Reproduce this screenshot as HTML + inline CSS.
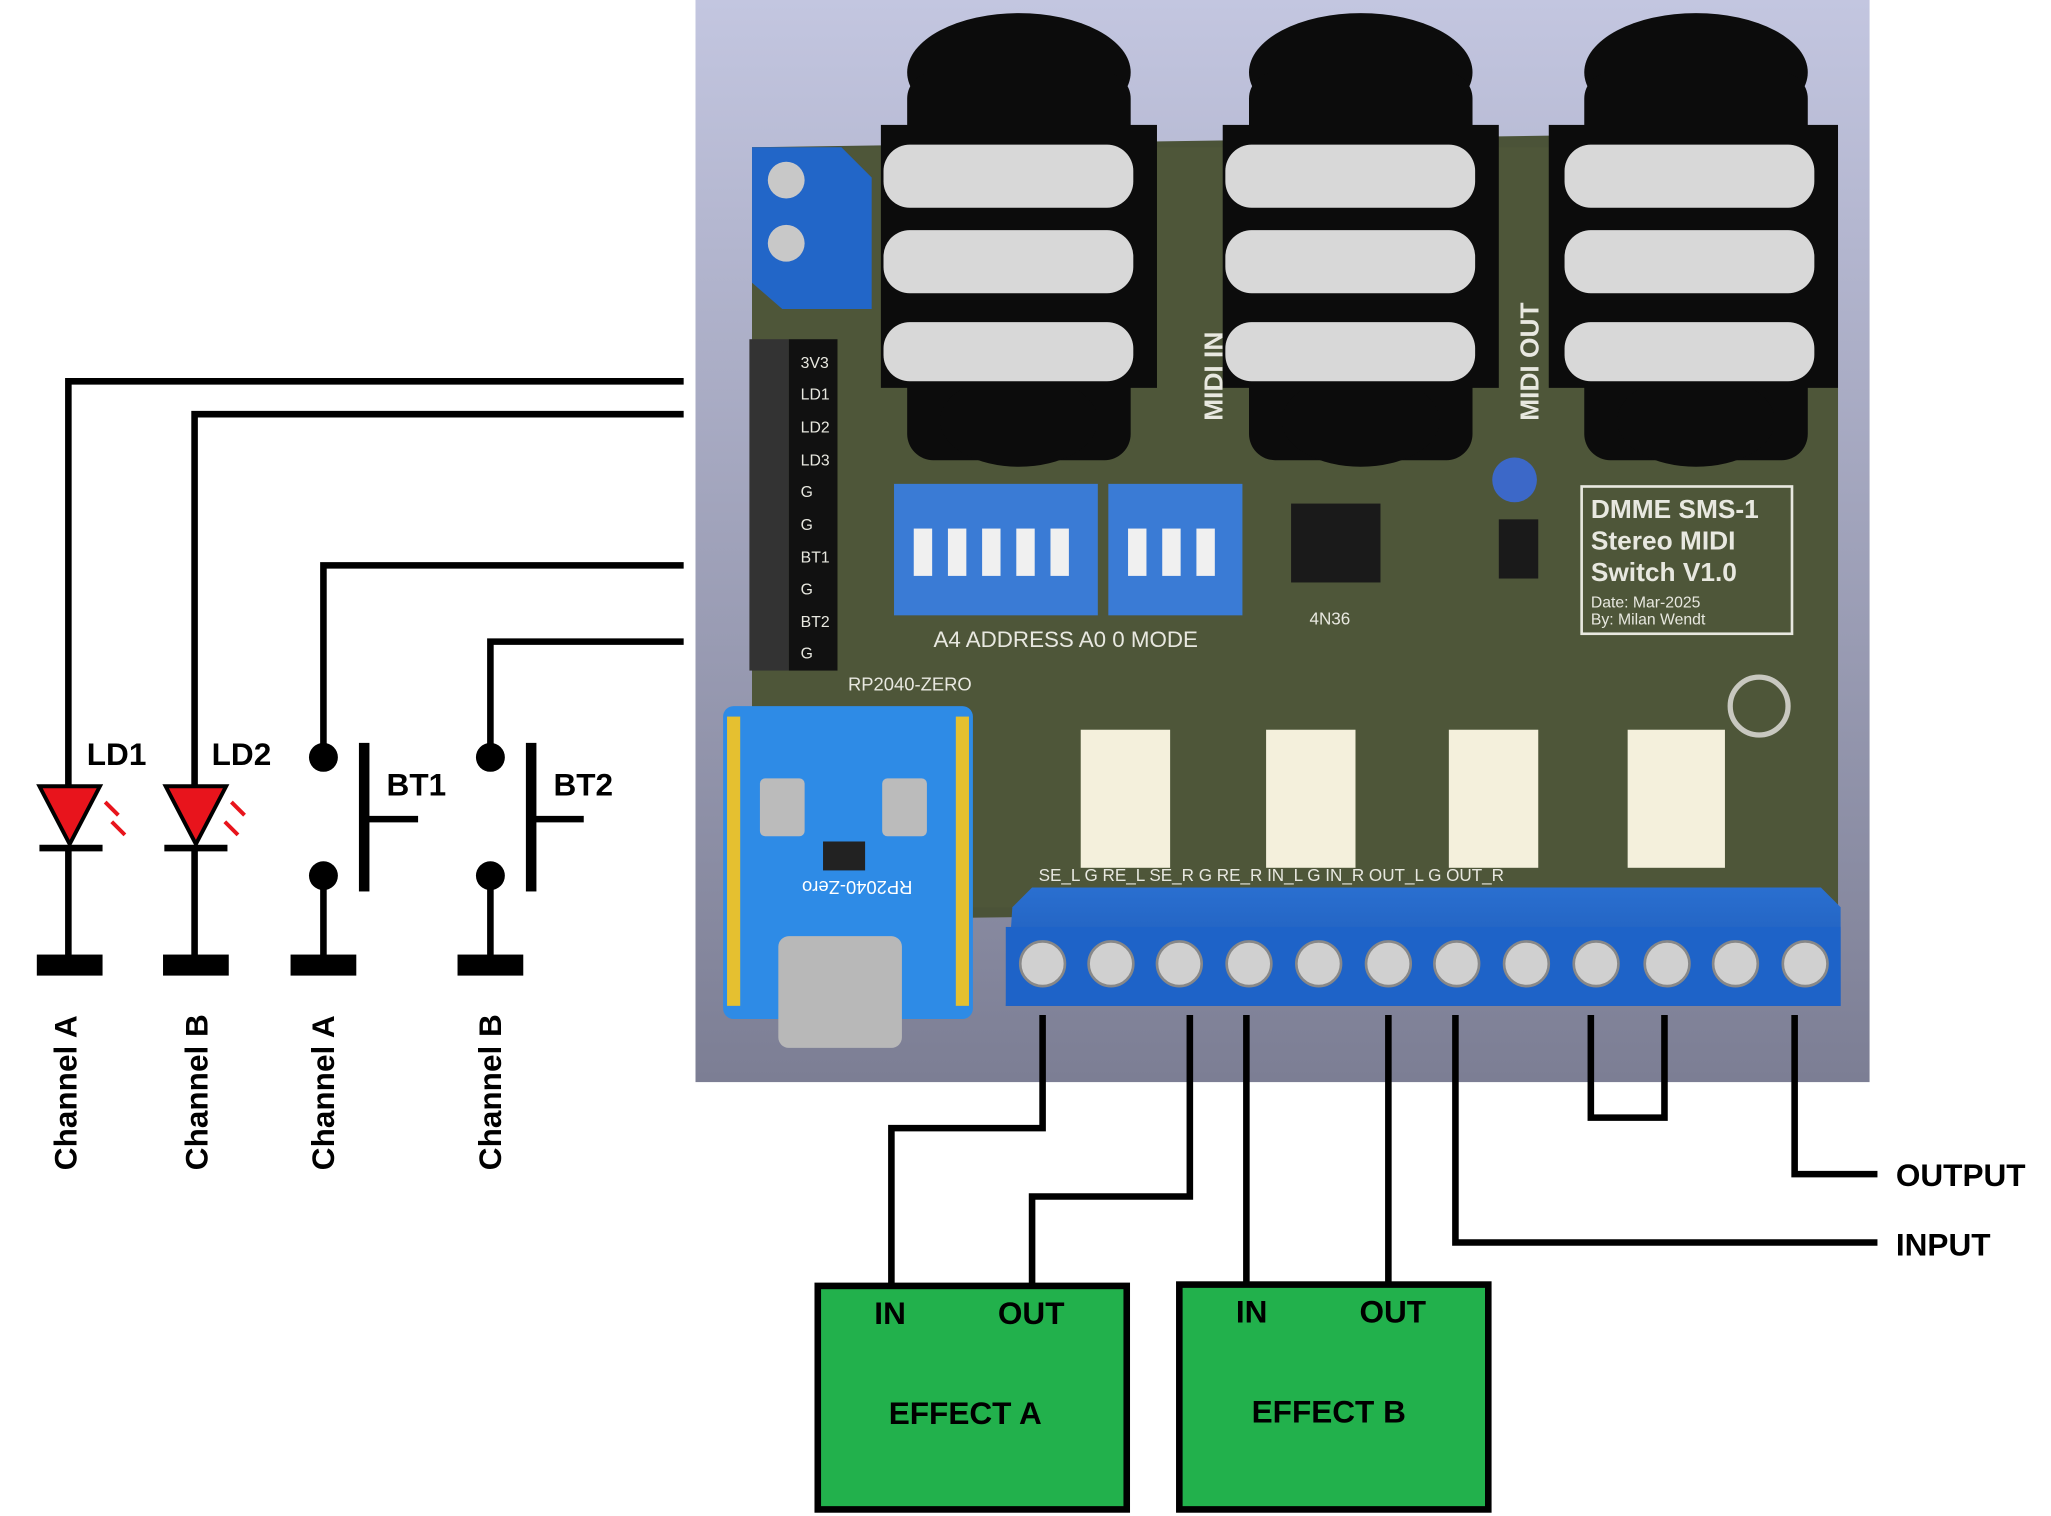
<!DOCTYPE html>
<html><head><meta charset="utf-8"><style>
html,body{margin:0;padding:0;background:#fff;}
svg{display:block;}
text{font-family:"Liberation Sans",sans-serif;}
</style></head><body>
<svg width="2051" height="1516" viewBox="0 0 1560 1153" preserveAspectRatio="none" xmlns="http://www.w3.org/2000/svg">
<defs>
<linearGradient id="bg" x1="0" y1="0" x2="0" y2="1"><stop offset="0" stop-color="#c3c6e0"/><stop offset="1" stop-color="#7c7e94"/></linearGradient>
<linearGradient id="blue" x1="0" y1="0" x2="0" y2="1"><stop offset="0" stop-color="#2a6fd0"/><stop offset="1" stop-color="#1a55b0"/></linearGradient>
</defs>
<rect x="529" y="0" width="893" height="823" fill="url(#bg)"/>
<!-- board -->
<polygon points="572,112 1398,100 1398,690 572,700" fill="#4b5338"/>
<rect x="572" y="112" width="826" height="578" fill="#4e5639" />
<!-- jacks -->
<g fill="#0c0c0c">
<ellipse cx="775" cy="55" rx="85" ry="45"/><rect x="690" y="55" width="170" height="295" rx="20"/><ellipse cx="775" cy="320" rx="60" ry="35"/>
<ellipse cx="1035" cy="55" rx="85" ry="45"/><rect x="950" y="55" width="170" height="295" rx="20"/><ellipse cx="1035" cy="320" rx="60" ry="35"/>
<ellipse cx="1290" cy="55" rx="85" ry="45"/><rect x="1205" y="55" width="170" height="295" rx="20"/><ellipse cx="1290" cy="320" rx="60" ry="35"/>
<rect x="670" y="95" width="210" height="200"/><rect x="930" y="95" width="210" height="200"/><rect x="1178" y="95" width="220" height="200"/>
</g>
<g fill="#d8d8d8">
<rect x="672" y="110" width="190" height="48" rx="20"/><rect x="672" y="175" width="190" height="48" rx="20"/><rect x="672" y="245" width="190" height="45" rx="20"/>
<rect x="932" y="110" width="190" height="48" rx="20"/><rect x="932" y="175" width="190" height="48" rx="20"/><rect x="932" y="245" width="190" height="45" rx="20"/>
<rect x="1190" y="110" width="190" height="48" rx="20"/><rect x="1190" y="175" width="190" height="48" rx="20"/><rect x="1190" y="245" width="190" height="45" rx="20"/>
</g>
<!-- top-left terminal -->
<polygon points="572,112 640,112 663,135 663,235 595,235 572,215" fill="#2266c8"/>
<circle cx="598" cy="137" r="14" fill="#c8c8c8"/><circle cx="598" cy="185" r="14" fill="#c8c8c8"/>
<!-- header -->
<rect x="570" y="258" width="30" height="252" fill="#333"/>
<rect x="600" y="258" width="37" height="252" fill="#111"/>
<g font-size="12" fill="#e8e8e0" font-family="Liberation Mono,monospace">
<text x="609" y="280">3V3</text><text x="609" y="304">LD1</text><text x="609" y="329">LD2</text><text x="609" y="354">LD3</text><text x="609" y="378">G</text><text x="609" y="403">G</text><text x="609" y="428">BT1</text><text x="609" y="452">G</text><text x="609" y="477">BT2</text><text x="609" y="501">G</text>
</g>
<!-- dip switches -->
<rect x="680" y="368" width="155" height="100" fill="#3a7bd5"/>
<rect x="843" y="368" width="102" height="100" fill="#3a7bd5"/>
<g fill="#f0f0f0"><rect x="695" y="402" width="14" height="36"/><rect x="721" y="402" width="14" height="36"/><rect x="747" y="402" width="14" height="36"/><rect x="773" y="402" width="14" height="36"/><rect x="799" y="402" width="14" height="36"/><rect x="858" y="402" width="14" height="36"/><rect x="884" y="402" width="14" height="36"/><rect x="910" y="402" width="14" height="36"/></g>
<g font-size="17" fill="#e8e8e0" font-family="Liberation Mono,monospace">
<text x="710" y="492">A4 ADDRESS A0  0  MODE</text>
<text x="1210" y="394" font-size="20" font-weight="bold">DMME SMS-1</text>
<text x="1210" y="418" font-size="20" font-weight="bold">Stereo MIDI</text>
<text x="1210" y="442" font-size="20" font-weight="bold">Switch V1.0</text>
<text x="1210" y="462" font-size="12">Date: Mar-2025</text>
<text x="1210" y="475" font-size="12">By: Milan Wendt</text>
<text x="996" y="475" font-size="13">4N36</text>
<text x="645" y="525" font-size="14">RP2040-ZERO</text>
</g>
<rect x="1203" y="370" width="160" height="112" fill="none" stroke="#e8e8e0" stroke-width="2"/>
<text transform="translate(930,320) rotate(-90)" font-size="20" fill="#e8e8e0" font-family="Liberation Mono,monospace" font-weight="bold">MIDI IN</text>
<text transform="translate(1170,320) rotate(-90)" font-size="20" fill="#e8e8e0" font-family="Liberation Mono,monospace" font-weight="bold">MIDI OUT</text>
<!-- IC -->
<rect x="982" y="383" width="68" height="60" fill="#1a1a1a"/>
<rect x="1140" y="395" width="30" height="45" fill="#1a1a1a"/>
<circle cx="1152" cy="365" r="17" fill="#3c68c8"/>
<circle cx="1338" cy="537" r="22" fill="none" stroke="#c8c8c0" stroke-width="4"/>
<!-- RP2040 -->
<rect x="550" y="537" width="190" height="238" rx="8" fill="#2e8be6"/>
<rect x="578" y="592" width="34" height="44" rx="4" fill="#bbb"/><rect x="671" y="592" width="34" height="44" rx="4" fill="#bbb"/>
<rect x="626" y="640" width="32" height="22" fill="#222"/>
<text x="596" y="680" font-size="14" fill="#fff" transform="rotate(180 645 675)">RP2040-Zero</text>
<rect x="592" y="712" width="94" height="85" rx="8" fill="#b8b8b8"/>
<g fill="#e5c030"><rect x="553" y="545" width="10" height="220"/><rect x="727" y="545" width="10" height="220"/></g>
<!-- relays -->
<g fill="#f4f0dc"><rect x="822" y="555" width="68" height="105"/><rect x="963" y="555" width="68" height="105"/><rect x="1102" y="555" width="68" height="105"/><rect x="1238" y="555" width="74" height="105"/></g>
<g font-size="13" fill="#e8e8e0" font-family="Liberation Mono,monospace">
<text x="790" y="670">SE_L    G   RE_L  SE_R   G   RE_R  IN_L   G   IN_R  OUT_L  G   OUT_R</text>
</g>
<!-- bottom terminal -->
<polygon points="770,690 785,675 1385,675 1400,690 1400,765 765,765" fill="url(#blue)"/>
<rect x="765" y="705" width="635" height="60" fill="#1e63c8"/>
<g fill="#d0d0d0" stroke="#888" stroke-width="2">
<circle cx="793" cy="733" r="17"/><circle cx="845" cy="733" r="17"/><circle cx="897" cy="733" r="17"/><circle cx="950" cy="733" r="17"/><circle cx="1003" cy="733" r="17"/><circle cx="1056" cy="733" r="17"/><circle cx="1108" cy="733" r="17"/><circle cx="1161" cy="733" r="17"/><circle cx="1214" cy="733" r="17"/><circle cx="1268" cy="733" r="17"/><circle cx="1320" cy="733" r="17"/><circle cx="1373" cy="733" r="17"/>
</g>
<!-- left wiring -->
<g fill="none" stroke="#000" stroke-width="5">
<polyline points="520,290 52,290 52,600"/><polyline points="520,315 148,315 148,600"/>
<polyline points="520,430 246,430 246,576"/><polyline points="520,488 373,488 373,576"/>
<line x1="52" y1="645" x2="52" y2="728"/><line x1="148" y1="645" x2="148" y2="728"/>
<line x1="246" y1="666" x2="246" y2="728"/><line x1="373" y1="666" x2="373" y2="728"/>
<line x1="30" y1="645" x2="78" y2="645"/><line x1="125" y1="645" x2="173" y2="645"/>
<polyline points="318,623 276,623"/><polyline points="444,623 403,623"/>
</g>
<g fill="#000"><rect x="273" y="565" width="8" height="113"/><rect x="400" y="565" width="8" height="113"/>
<rect x="28" y="726" width="50" height="16"/><rect x="124" y="726" width="50" height="16"/><rect x="221" y="726" width="50" height="16"/><rect x="348" y="726" width="50" height="16"/>
<circle cx="246" cy="576" r="11"/><circle cx="246" cy="666" r="11"/><circle cx="373" cy="576" r="11"/><circle cx="373" cy="666" r="11"/></g>
<polygon points="30,598 76,598 53,642" fill="#e8141c" stroke="#000" stroke-width="3"/>
<polygon points="126,598 172,598 149,642" fill="#e8141c" stroke="#000" stroke-width="3"/>
<g stroke="#e8141c" stroke-width="3"><line x1="80" y1="610" x2="90" y2="620"/><line x1="85" y1="625" x2="95" y2="635"/><line x1="176" y1="610" x2="186" y2="620"/><line x1="171" y1="625" x2="181" y2="635"/></g>
<g font-size="24" font-weight="bold" fill="#000">
<text x="66" y="582">LD1</text><text x="161" y="582">LD2</text><text x="294" y="605">BT1</text><text x="421" y="605">BT2</text>
<text transform="translate(58,890) rotate(-90)">Channel A</text>
<text transform="translate(158,890) rotate(-90)">Channel B</text>
<text transform="translate(254,890) rotate(-90)">Channel A</text>
<text transform="translate(381,890) rotate(-90)">Channel B</text>
</g>
<!-- bottom wiring -->
<g fill="none" stroke="#000" stroke-width="5">
<polyline points="793,772 793,858 678,858 678,978"/>
<polyline points="905,772 905,910 785,910 785,978"/>
<line x1="948" y1="772" x2="948" y2="978"/><line x1="1056" y1="772" x2="1056" y2="978"/>
<polyline points="1107,772 1107,945 1428,945"/>
<polyline points="1210,772 1210,850 1266,850 1266,772"/>
<polyline points="1365,772 1365,893 1428,893"/>
</g>
<rect x="622" y="978" width="235" height="170" fill="#22b14c" stroke="#000" stroke-width="5"/>
<rect x="897" y="977" width="235" height="171" fill="#22b14c" stroke="#000" stroke-width="5"/>
<g font-size="24" font-weight="bold" fill="#000">
<text x="665" y="1007">IN</text><text x="759" y="1007">OUT</text><text x="676" y="1083">EFFECT A</text>
<text x="940" y="1006">IN</text><text x="1034" y="1006">OUT</text><text x="952" y="1082">EFFECT B</text>
<text x="1442" y="902">OUTPUT</text><text x="1442" y="955">INPUT</text>
</g>
</svg>
</body></html>
